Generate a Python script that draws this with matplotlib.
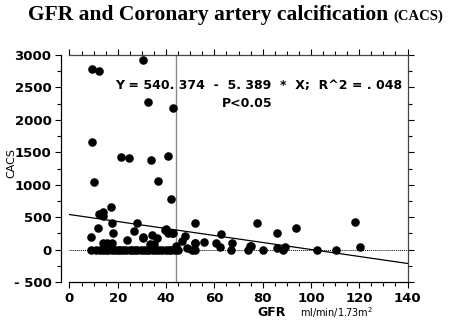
import matplotlib
matplotlib.use('Agg')
import matplotlib.pyplot as plt
from matplotlib.ticker import MultipleLocator

# ── Data ────────────────────────────────────────────────────
gfr = [30.3, 9.5, 12.3, 32.6, 43.0, 9.2, 21.2, 24.8, 33.6, 40.7,
       10.1, 36.8, 41.9, 12.3, 13.7, 14.0, 17.2, 8.8, 11.9, 17.7,
       18.1, 27.8, 26.7, 30.6, 34.0, 36.1, 40.0, 42.3, 42.7, 47.8,
       46.5, 52.0, 52.0, 55.8, 60.7, 62.7, 62.3, 67.2, 66.9, 74.7,
       74.0, 77.8, 86.0, 93.8, 118.2, 75.0, 80.2, 86.0, 88.3, 89.2,
       102.4, 110.2, 120.3,
       # near-zero cluster
       9.0, 11.0, 12.5, 14.0, 15.0, 16.0, 17.5, 19.0, 20.0, 21.0,
       22.0, 23.5, 25.0, 26.0, 27.0, 28.0, 29.5, 31.0, 32.0, 33.0,
       34.5, 36.0, 37.0, 38.5, 40.0, 41.0, 42.0, 43.5, 45.0, 48.5,
       50.6, 52.0, 14.0, 15.4, 17.5, 23.7, 30.5, 33.5, 35.0, 39.5,
       40.9, 44.0, 52.0]
cacs = [2920, 2780, 2757, 2282, 2189, 1662, 1429, 1408, 1388, 1450,
        1042, 1062, 783, 550, 577, 519, 664, 199, 329, 406,
        261, 416, 292, 199, 225, 174, 313, 251, 261, 209,
        137, 406, 105, 112, 105, 236, 43, 96, 0, 54,
        0, 406, 261, 329, 422, 60, 0, 18, 0, 43,
        0, 0, 34,
        0, 0, 0, 0, 0, 0, 0, 0, 0, 0,
        0, 0, 0, 0, 0, 0, 0, 0, 0, 0,
        0, 0, 0, 0, 0, 0, 0, 0, 0, 18,
        0, 0, 96, 96, 96, 147, 174, 90, 80, 302,
        251, 60, 96]

intercept = 540.374
slope = -5.389
cutoff = 44.3
line_x = [0, 140]

# ── Figure ──────────────────────────────────────────────────
fig = plt.figure(figsize=(4.56, 3.21), dpi=100)
ax = fig.add_axes([0.1524, 0.1215, 0.7414, 0.707])

ax.scatter(gfr, cacs, s=38, color='black', zorder=3, linewidths=0)
ax.plot(line_x, [intercept + slope * x for x in line_x],
        color='black', linewidth=0.9, zorder=2)
ax.axvline(cutoff, color='#8a8a8a', linewidth=1.0, zorder=1)
ax.axhline(0, color='black', linestyle=(0, (1, 1)), linewidth=0.7, zorder=1)

ax.set_xlim(0, 140)
ax.set_ylim(-500, 3000)

# axes styling
ax.spines['left'].set_position(('outward', 6))
for side in ['left', 'right', 'top', 'bottom']:
    ax.spines[side].set_linewidth(0.9)
ax.spines['top'].set_color('#444444')
ax.spines['right'].set_color('#444444')

ax.xaxis.set_major_locator(MultipleLocator(20))
ax.xaxis.set_minor_locator(MultipleLocator(5))
ax.yaxis.set_major_locator(MultipleLocator(500))
ax.yaxis.set_minor_locator(MultipleLocator(250))
ax.tick_params(which='both', direction='out', top=True, right=True,
               labeltop=False, labelright=False, width=0.8)
ax.tick_params(which='major', length=4)
ax.tick_params(which='minor', length=3)
ax.tick_params(axis='x', pad=3)
ax.tick_params(axis='y', pad=3)

tick_font = {'family': 'DejaVu Sans', 'weight': 'bold', 'size': 9.5}
ax.set_xticks(range(0, 141, 20))
ax.set_xticklabels([str(v) for v in range(0, 141, 20)], fontdict=tick_font)
ax.set_yticks(range(-500, 3001, 500))
ax.set_yticklabels(['- 500' if v < 0 else str(v) for v in range(-500, 3001, 500)],
                   fontdict=tick_font)

# annotations
ax.text(18.8, 2535, 'Y = 540. 374  -  5. 389  *  X;  R^2 = . 048',
        fontsize=9, fontweight='bold', va='center', ha='left')
ax.text(63.2, 2256, 'P<0.05', fontsize=9, fontweight='bold',
        va='center', ha='left')

# axis labels
fig.text(11 / 456, 1 - 163 / 321, 'CACS', rotation=90, fontsize=8,
         ha='center', va='center')
fig.text(272 / 456, 1 - 313 / 321, 'GFR', fontsize=9, fontweight='bold',
         ha='center', va='center')
fig.text(300 / 456, 1 - 313 / 321, 'ml/min/1.73m$^2$', fontsize=7,
         ha='left', va='center')

# title in two sizes
t1 = fig.text(28 / 456, 1 - 20 / 321, 'GFR and Coronary artery calcification',
              family='Liberation Serif', fontweight='bold', fontsize=15.5,
              ha='left', va='baseline')
fig.canvas.draw()
bb = t1.get_window_extent()
fig.text((bb.x1 + 5) / 456, 1 - 20 / 321, '(CACS)',
         family='Liberation Serif', fontweight='bold', fontsize=10.5,
         ha='left', va='baseline')

plt.savefig('out.png', dpi=100)
